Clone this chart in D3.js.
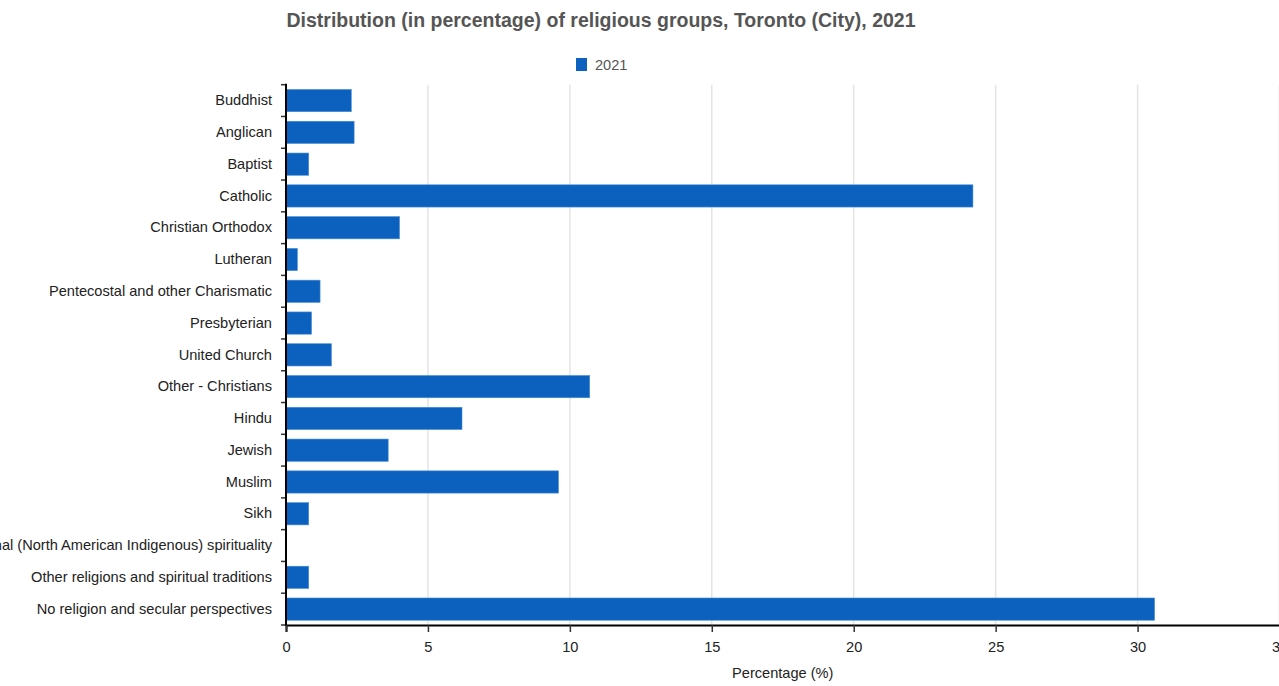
<!DOCTYPE html>
<html>
<head>
<meta charset="utf-8">
<script src="https://cdn.jsdelivr.net/npm/d3@7"></script>
<style>
  body { margin: 0; overflow: hidden; background: #fff; font-family: Arial, "Liberation Sans", sans-serif; }
</style>
</head>
<body>
<svg id="chart"></svg>
<script>
// data
var groups = ["Buddhist", "Anglican", "Baptist", "Catholic", "Christian Orthodox", "Lutheran",
  "Pentecostal and other Charismatic", "Presbyterian", "United Church", "Other - Christians",
  "Hindu", "Jewish", "Muslim", "Sikh", "Traditional (North American Indigenous) spirituality",
  "Other religions and spiritual traditions", "No religion and secular perspectives"];
var values2021 = [2.3, 2.4, 0.8, 24.2, 4.0, 0.4, 1.2, 0.9, 1.6, 10.7, 6.2, 3.6, 9.6, 0.8, 0.0, 0.8, 30.6];
var xTicks = [0, 5, 10, 15, 20, 25, 30, 35];
var seriesName = "2021";
var chartTitle = "Distribution (in percentage) of religious groups, Toronto (City), 2021";

var width = 1300, height = 686;
var margin = {top: 84.7, left: 286, bottom: 61, right: 20};  // right edge of plot ~1279.5
var labelFont = "14.6px";

var svg = d3.select("#chart")
    .attr("width", width)
    .attr("height", height);

var xScale = d3.scaleLinear()
    .domain([0, 35])
    .range([margin.left, 1279.5]);

var yScale = d3.scaleBand()
    .domain(groups)
    .range([margin.top, height - margin.bottom])
    .paddingInner(0.3)
    .paddingOuter(0.15);

var plotBottom = height - margin.bottom;

//grid lines
svg.append("g")
  .selectAll("line")
  .data(xTicks.filter(d => d > 0))
  .enter()
  .append("line")
    .attr("x1", d => xScale(d))
    .attr("x2", d => xScale(d))
    .attr("y1", margin.top)
    .attr("y2", plotBottom)
    .attr("stroke", "#e4e4e4")
    .attr("stroke-width", 1.5);

//bars
svg.append("g")
  .selectAll("rect")
  .data(values2021)
  .enter()
  .append("rect")
    .attr("x", xScale(0))
    .attr("y", (d, i) => yScale(groups[i]))
    .attr("width", d => xScale(d) - xScale(0))
    .attr("height", yScale.bandwidth())
    .attr("fill", "#0b61bd")
    .attr("stroke", d => d > 0 ? "#4a8fd8" : "none")
    .attr("stroke-width", 0.6);

//y axis labels (no ticks), ticks drawn at band boundaries
var yAxis = d3.axisLeft(yScale).tickSize(0).tickPadding(14);
var yG = svg.append("g")
    .attr("transform", "translate(" + margin.left + ",0)")
    .call(yAxis);
yG.select(".domain").remove();
yG.selectAll("text")
    .attr("font-family", "Arial, 'Liberation Sans', sans-serif")
    .attr("font-size", labelFont)
    .attr("fill", "#222");

var bounds = d3.range(groups.length + 1).map(i => margin.top + i * (plotBottom - margin.top) / groups.length);
svg.append("g")
  .selectAll("line")
  .data(bounds)
  .enter()
  .append("line")
    .attr("x1", margin.left - 5)
    .attr("x2", margin.left)
    .attr("y1", d => d)
    .attr("y2", d => d)
    .attr("stroke", "#333")
    .attr("stroke-width", 1.5);

svg.append("line")
    .attr("x1", margin.left)
    .attr("x2", margin.left)
    .attr("y1", margin.top - 1)
    .attr("y2", plotBottom + 1)
    .attr("stroke", "#000")
    .attr("stroke-width", 2);

//x axis
var xAxis = d3.axisBottom(xScale).tickValues(xTicks).tickSize(7).tickPadding(10).tickFormat(d3.format("d"));
var xG = svg.append("g")
    .attr("transform", "translate(0," + plotBottom + ")")
    .call(xAxis);
xG.select(".domain").attr("stroke", "#000").attr("stroke-width", 2);
xG.selectAll(".tick line").attr("stroke", "#333").attr("stroke-width", 1.5);
xG.selectAll("text")
    .attr("font-family", "Arial, 'Liberation Sans', sans-serif")
    .attr("font-size", labelFont)
    .attr("fill", "#222");

//axis title
svg.append("text")
    .attr("x", (margin.left + 1279.5) / 2)
    .attr("y", 678)
    .style("text-anchor", "middle")
    .attr("font-size", labelFont)
    .attr("fill", "#222")
    .text("Percentage (%)");

//chart title
svg.append("text")
    .attr("x", 601)
    .attr("y", 27)
    .style("text-anchor", "middle")
    .attr("font-size", "19.5px")
    .attr("font-weight", "bold")
    .attr("fill", "#555")
    .text(chartTitle);

//legend
var legend = svg.append("g").attr("transform", "translate(576,58)");
legend.append("rect")
    .attr("width", 11)
    .attr("height", 13)
    .attr("fill", "#0b61bd");
legend.append("text")
    .attr("x", 19)
    .attr("y", 11.5)
    .attr("font-size", labelFont)
    .attr("fill", "#555")
    .text(seriesName);
</script>
</body>
</html>
